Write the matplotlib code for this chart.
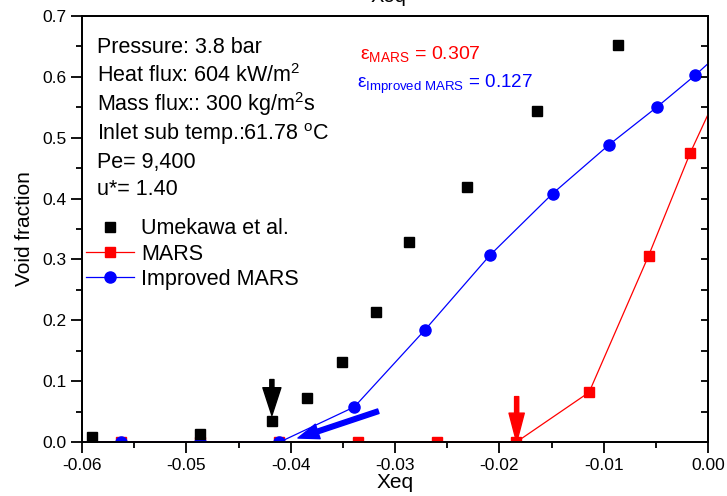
import matplotlib
matplotlib.use("Agg")
import matplotlib.pyplot as plt
from matplotlib.ticker import MultipleLocator

plt.rcParams['font.family'] = ['Liberation Sans', 'DejaVu Sans']
plt.rcParams['mathtext.fontset'] = 'custom'
plt.rcParams['mathtext.rm'] = 'Liberation Sans'
plt.rcParams['mathtext.it'] = 'Liberation Sans:italic'
plt.rcParams['mathtext.bf'] = 'Liberation Sans:bold'

# Experimental data (Umekawa et al.)
exp_x = [-0.0590, -0.0487, -0.0418, -0.0384, -0.0351, -0.0318, -0.0287, -0.0231, -0.0164, -0.0086]
exp_y = [0.008, 0.014, 0.035, 0.072, 0.132, 0.213, 0.328, 0.419, 0.543, 0.652]

# MARS
mars_x = [-0.0640, -0.0563, -0.0487, -0.0411, -0.0335, -0.0260, -0.0184, -0.0114, -0.0057, -0.0017, 0.0040]
mars_y = [0.0, 0.0, 0.0, 0.0, 0.0, 0.0, 0.0, 0.082, 0.306, 0.475, 0.686]

# Improved MARS
imp_x = [-0.0640, -0.0563, -0.0487, -0.0411, -0.0339, -0.0271, -0.0209, -0.0149, -0.0095, -0.0049, -0.00125, 0.0025]
imp_y = [0.0, 0.0, 0.0, 0.0, 0.058, 0.185, 0.307, 0.408, 0.488, 0.550, 0.602, 0.660]

info_lines = [
    "Pressure: 3.8 bar",
    r"Heat flux: 604 kW/m$^{2}$",
    r"Mass flux:: 300 kg/m$^{2}$s",
    r"Inlet sub temp.:61.78 $^{\mathrm{o}}$C",
    "Pe= 9,400",
    "u*= 1.40",
]

fig = plt.figure(figsize=(7.27, 4.96), dpi=100)
ax = fig.add_axes([82/727, 1-442.3/496, (708-82)/727, (442.3-15.7)/496])

ax.plot(mars_x, mars_y, color='#ff0000', lw=0.9, marker='s', ms=6.5, mec='#ff0000', mfc='#ff0000', label='MARS', zorder=3)
ax.plot(imp_x, imp_y, color='#0000ff', lw=0.9, marker='o', ms=8, mec='#0000ff', mfc='#0000ff', label='Improved MARS', zorder=4)
ax.plot(exp_x, exp_y, ls='none', color='k', marker='s', ms=7, label='Umekawa et al.', zorder=5)

ax.set_xlim(-0.06, 0.0)
ax.set_ylim(0.0, 0.7)
ax.xaxis.set_major_locator(MultipleLocator(0.01))
ax.xaxis.set_minor_locator(MultipleLocator(0.005))
ax.yaxis.set_major_locator(MultipleLocator(0.1))
ax.yaxis.set_minor_locator(MultipleLocator(0.05))
ax.xaxis.set_major_formatter(matplotlib.ticker.FuncFormatter(lambda v, p: f"{v:.2f}" if abs(v) > 1e-9 else "0.00"))
ax.yaxis.set_major_formatter(matplotlib.ticker.FuncFormatter(lambda v, p: f"{v:.1f}"))
ax.tick_params(which='major', direction='out', length=8, width=1.3, labelsize=12.5, pad=3)
ax.tick_params(which='minor', direction='out', length=4, width=1.3)
ax.tick_params(top=False, right=False, which='both')
for s in ax.spines.values():
    s.set_linewidth(1.3)

# mirrored inward ticks on right spine
ax2 = ax.twinx()
ax2.set_ylim(ax.get_ylim())
ax2.yaxis.set_major_locator(MultipleLocator(0.1))
ax2.yaxis.set_minor_locator(MultipleLocator(0.05))
ax2.tick_params(which='both', direction='in', length=5, width=1.3, labelright=False)
for s in ax2.spines.values():
    s.set_linewidth(1.3)

ax.set_xlabel('Xeq', fontsize=15, labelpad=0)
ax.set_ylabel('Void fraction', fontsize=15, labelpad=6)

# info text
baselines = [53.3, 82, 111, 140, 168, 195]
for line, b in zip(info_lines, baselines):
    fig.text(97/727, 1 - b/496, line, fontsize=15.5, va='baseline', ha='left')

fig.text(360/727, 1 - 59/496, r"ε$_{\mathrm{MARS}}$ = 0.307", color='#ff0000', fontsize=14, va='baseline')
fig.text(357/727, 1 - 88/496, r"ε$_{\mathrm{Improved\ MARS}}$ = 0.127", color='#0000ff', fontsize=13.6, va='baseline')

# cut-off duplicated title (partly outside the figure, as in the source)
fig.text(388/727, 1 - 2/496, 'Xeq', fontsize=14.5, va='baseline', ha='center')

# legend
h, l = ax.get_legend_handles_labels()
order = [2, 0, 1]
leg = ax.legend([h[i] for i in order], [l[i] for i in order], loc='upper left',
                bbox_to_anchor=(0.0, 1 - (214-15.7)/426.6), frameon=False, fontsize=15.5,
                handlelength=2.2, handletextpad=0.35, labelspacing=0.2, borderaxespad=0.0,
                borderpad=0.2)

# arrows
ax.annotate('', xy=(-0.0418, 0.044), xytext=(-0.0418, 0.103),
            arrowprops=dict(width=3, headwidth=13, headlength=20, color='k', shrink=0), zorder=6)
ax.annotate('', xy=(-0.01834, 0.0), xytext=(-0.01834, 0.075),
            arrowprops=dict(width=3, headwidth=11, headlength=21, color='#ff0000', shrink=0), zorder=6)
ax.annotate('', xy=(-0.0393, 0.007), xytext=(-0.0316, 0.051),
            arrowprops=dict(width=3.4, headwidth=11, headlength=15, color='#0000ff', shrink=0), zorder=6)

fig.savefig('out.png', dpi=100)
